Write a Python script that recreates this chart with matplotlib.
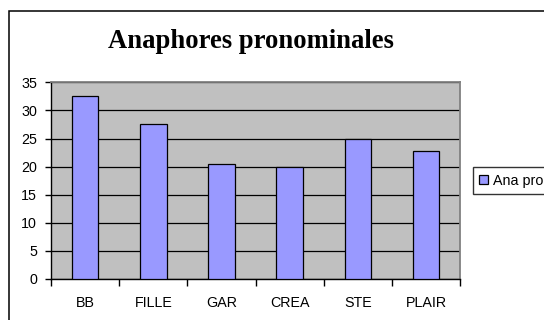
import matplotlib
matplotlib.use("Agg")
import matplotlib.pyplot as plt
from matplotlib.patches import Rectangle
import numpy as np

categories = ["BB", "FILLE", "GAR", "CREA", "STE", "PLAIR"]
values = [32.6, 27.6, 20.5, 20.0, 25.0, 22.8]
series_name = "Ana pronominales"
title = "Anaphores pronominales"

W, H = 544, 320
fig = plt.figure(figsize=(W / 100, H / 100), dpi=100)
fig.patch.set_facecolor("white")

# outer chart frame (right/bottom edges fall outside the canvas)
fig.patches.append(Rectangle((9.3 / W, -0.1), 1.2, (H - 11) / H + 0.1,
                             transform=fig.transFigure, fill=False,
                             edgecolor="black", linewidth=1.1))

ax = fig.add_axes([51 / W, (H - 279) / H, 409.3 / W, 196.7 / H])
ax.set_facecolor("#C0C0C0")

x = np.arange(len(categories))
bars = ax.bar(x, values, width=0.39, color="#9999FF", edgecolor="black",
              linewidth=0.9, zorder=3, label=series_name)

ax.set_xlim(-0.5, len(categories) - 0.5)
ax.set_ylim(0, 35)
ax.set_yticks(np.arange(0, 36, 5))
ax.yaxis.grid(True, color="black", linewidth=0.9, zorder=1)
ax.set_axisbelow(True)

ax.set_xticks(x)
ax.set_xticklabels(categories)
ax.set_xticks(np.arange(-0.5, len(categories)), minor=True)
ax.tick_params(axis="x", which="major", length=0, pad=12)
ax.tick_params(axis="x", which="minor", length=5, width=1, color="black", direction="out")
ax.tick_params(axis="y", length=4, width=1, color="black", pad=6)

for lbl in ax.get_xticklabels() + ax.get_yticklabels():
    lbl.set_fontfamily("Liberation Sans")
    lbl.set_fontsize(10.3)

for s in ["top", "right"]:
    ax.spines[s].set_color("#808080")
    ax.spines[s].set_linewidth(1.3)
for s in ["left", "bottom"]:
    ax.spines[s].set_color("black")
    ax.spines[s].set_linewidth(1.0)

fig.text(251 / W, 1 - 42 / H, title, ha="center", va="center",
         fontfamily="Liberation Serif", fontweight="bold", fontsize=19.2)

leg = fig.legend(handles=[bars], labels=[series_name], loc="center left",
                 bbox_to_anchor=(473 / W, 1 - 180.5 / H), borderaxespad=0,
                 frameon=True, fancybox=False, edgecolor="black",
                 handlelength=0.6, handleheight=0.6, handletextpad=0.35,
                 borderpad=0.45, prop={"family": "Liberation Sans", "size": 10.3})
leg.get_frame().set_linewidth(1.0)

fig.savefig("out.png", dpi=100)
